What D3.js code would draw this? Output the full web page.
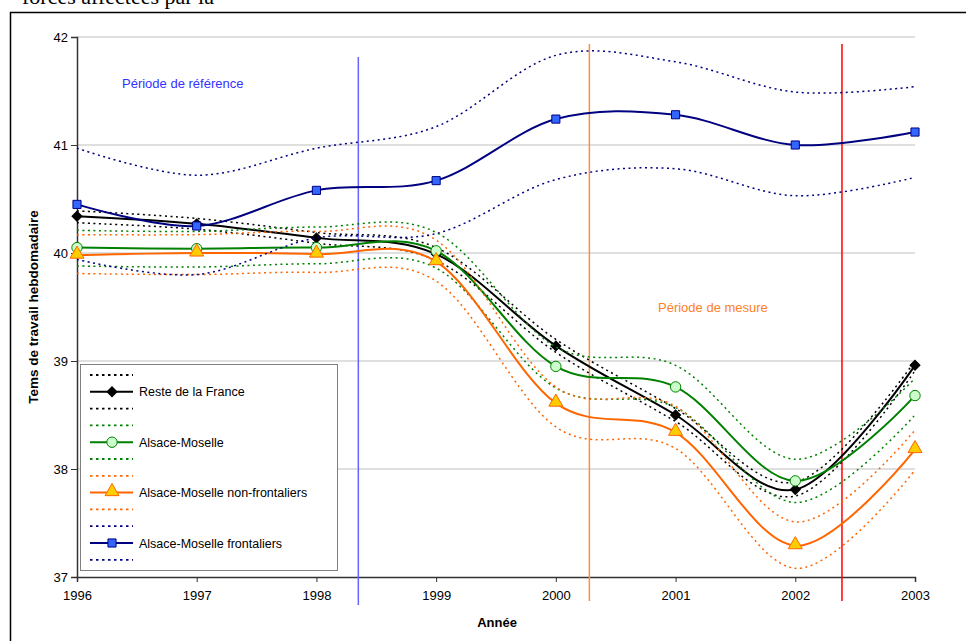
<!DOCTYPE html>
<html>
<head>
<meta charset="utf-8">
<script src="https://cdn.jsdelivr.net/npm/d3@7"></script>
<style>
  body { margin: 0; background: #fff; }
  svg { display: block; font-family: "Liberation Sans", Arial, sans-serif; }
</style>
</head>
<body>
<div id="chart"></div>
<script>
// années et valeurs
var years = [1996, 1997, 1998, 1999, 2000, 2001, 2002, 2003];
var yTicks = [37, 38, 39, 40, 41, 42];

var resteFrance    = [40.34, 40.27, 40.14, 39.99, 39.14, 38.50, 37.81, 38.96];
var resteFranceHt  = [40.39, 40.32, 40.19, 40.05, 39.20, 38.56, 37.88, 39.00];
var resteFranceBas = [40.28, 40.22, 40.09, 39.93, 39.08, 38.44, 37.75, 38.91];

var alsaceMoselle    = [40.05, 40.04, 40.05, 40.02, 38.95, 38.76, 37.89, 38.68];
var alsaceMoselleHt  = [40.21, 40.20, 40.24, 40.19, 39.13, 38.96, 38.09, 38.84];
var alsaceMoselleBas = [39.88, 39.87, 39.90, 39.86, 38.75, 38.57, 37.69, 38.50];

var nonFrontaliers    = [39.98, 40.00, 39.99, 39.92, 38.61, 38.34, 37.29, 38.18];
var nonFrontaliersHt  = [40.17, 40.17, 40.20, 40.12, 38.76, 38.58, 37.51, 38.36];
var nonFrontaliersBas = [39.81, 39.80, 39.82, 39.74, 38.39, 38.19, 37.08, 37.99];

var frontaliers    = [40.45, 40.25, 40.58, 40.67, 41.24, 41.28, 41.00, 41.12];
var frontaliersHt  = [40.97, 40.72, 40.97, 41.17, 41.83, 41.77, 41.49, 41.54];
var frontaliersBas = [39.94, 39.80, 40.14, 40.18, 40.68, 40.78, 40.53, 40.70];

var seriesNames = ["Reste de la France", "Alsace-Moselle", "Alsace-Moselle non-frontaliers", "Alsace-Moselle frontaliers"];

// bornes des périodes (en années)
var periodLines = [1998.35, 2000.28, 2002.39];
var periodLabels = ["Période de référence", "Période de mesure"];

var width = 966, height = 641;
var svg = d3.select("#chart").append("svg")
    .attr("width", width)
    .attr("height", height);

svg.append("rect").attr("width", width).attr("height", height).attr("fill", "#fff");

// bout de titre coupé au-dessus du cadre
svg.append("text")
    .attr("x", 22).attr("y", 4)
    .attr("font-family", "Liberation Serif, Times New Roman, serif")
    .attr("font-size", "22px")
    .text("forces affectées par la");

// cadre extérieur
svg.append("rect")
    .attr("x", 10.5).attr("y", 12.5)
    .attr("width", 1000).attr("height", 700)
    .attr("fill", "none").attr("stroke", "#000").attr("stroke-width", 1.5);

var x = d3.scaleLinear().domain([1996, 2003]).range([77, 915]);
var y = d3.scaleLinear().domain([37, 42]).range([577, 37]);

// quadrillage
svg.append("g").selectAll("line")
    .data(yTicks.slice(1))
    .enter().append("line")
    .attr("x1", x(1996)).attr("x2", x(2003))
    .attr("y1", function (d) { return y(d); })
    .attr("y2", function (d) { return y(d); })
    .attr("stroke", "#d4d4d4").attr("stroke-width", 1.5);

// axes
var yAxis = svg.append("g")
    .attr("transform", "translate(" + x(1996) + ",0)")
    .call(d3.axisLeft(y).tickValues(yTicks).tickFormat(d3.format("d")).tickSize(6).tickPadding(3));
var xAxis = svg.append("g")
    .attr("transform", "translate(0," + y(37) + ")")
    .call(d3.axisBottom(x).tickValues(years).tickFormat(d3.format("d")).tickSize(5).tickPadding(9));
[xAxis, yAxis].forEach(function (a) {
    a.select(".domain").attr("stroke", "#333").attr("stroke-width", 1.5);
    a.selectAll(".tick line").attr("stroke", "#333");
    a.selectAll("text").attr("font-size", "13px").attr("fill", "#000")
        .attr("font-family", "Liberation Sans, Arial, sans-serif");
});

// lignes verticales des périodes
var periodColors = ["#6666ff", "#ff8c40", "#ff0000"];
var periodTops = [57, 44, 44];
var periodBottoms = [605, 601, 601];
periodLines.forEach(function (p, i) {
    svg.append("line")
        .attr("x1", x(p)).attr("x2", x(p))
        .attr("y1", periodTops[i]).attr("y2", periodBottoms[i])
        .attr("stroke", periodColors[i]).attr("stroke-width", 1.5);
});

svg.append("text")
    .attr("x", 122).attr("y", 88)
    .attr("font-size", "13px").attr("fill", "#3333ff")
    .text(periodLabels[0]);
svg.append("text")
    .attr("x", 658).attr("y", 312)
    .attr("font-size", "13px").attr("fill", "#ff7f27")
    .text(periodLabels[1]);

// séries
var table = [
    { name: null, values: resteFranceHt, color: "#000", dotted: true },
    { name: seriesNames[0], values: resteFrance, color: "#000", marker: "diamond", fill: "#000" },
    { name: null, values: resteFranceBas, color: "#000", dotted: true },
    { name: null, values: alsaceMoselleHt, color: "#008000", dotted: true },
    { name: seriesNames[1], values: alsaceMoselle, color: "#008000", marker: "circle", fill: "#ccffcc" },
    { name: null, values: alsaceMoselleBas, color: "#008000", dotted: true },
    { name: null, values: nonFrontaliersHt, color: "#ff6600", dotted: true },
    { name: seriesNames[2], values: nonFrontaliers, color: "#ff6600", marker: "triangle", fill: "#ffcc00" },
    { name: null, values: nonFrontaliersBas, color: "#ff6600", dotted: true },
    { name: null, values: frontaliersHt, color: "#000080", dotted: true },
    { name: seriesNames[3], values: frontaliers, color: "#000080", marker: "square", fill: "#3366ff" },
    { name: null, values: frontaliersBas, color: "#000080", dotted: true }
];

var line = d3.line()
    .x(function (d) { return x(d.year); })
    .y(function (d) { return y(d.v); })
    .curve(d3.curveCardinal.tension(0));

// le losange est un carré tourné de 45°
var symbolTypes = {
    diamond: { type: d3.symbolSquare, size: 50, rot: 45 },
    circle: { type: d3.symbolCircle, size: 85, rot: 0 },
    triangle: { type: d3.symbolTriangle, size: 85, rot: 0 },
    square: { type: d3.symbolSquare, size: 66, rot: 0 }
};

function drawMarker(g, s, cx, cy) {
    var sym = symbolTypes[s.marker];
    g.append("path")
        .attr("d", d3.symbol().type(sym.type).size(sym.size)())
        .attr("transform", "translate(" + cx + "," + (s.marker == "triangle" ? cy - 1 : cy) + ") rotate(" + sym.rot + ")")
        .attr("fill", s.fill)
        .attr("stroke", s.color)
        .attr("stroke-width", 1);
}

table.forEach(function (s) {
    var pts = years.map(function (yr, i) { return { year: yr, v: s.values[i] }; });
    var g = svg.append("g");
    g.append("path")
        .datum(pts)
        .attr("d", line)
        .attr("fill", "none")
        .attr("stroke", s.color)
        .attr("stroke-width", s.dotted ? 1.5 : 2)
        .attr("stroke-dasharray", s.dotted ? "2,3.5" : null);
    if (s.marker) {
        pts.forEach(function (p) { drawMarker(g, s, x(p.year), y(p.v)); });
    }
});

// légende
var legend = svg.append("g");
legend.append("rect")
    .attr("x", 80.5).attr("y", 364.5)
    .attr("width", 257).attr("height", 206)
    .attr("fill", "#fff").attr("stroke", "#808080").attr("stroke-width", 1);

table.forEach(function (s, i) {
    var ry = 375 + i * 16.8;
    legend.append("line")
        .attr("x1", 90).attr("x2", 133)
        .attr("y1", ry).attr("y2", ry)
        .attr("stroke", s.color)
        .attr("stroke-width", s.dotted ? 1.8 : 2)
        .attr("stroke-dasharray", s.dotted ? "2.5,3.5" : null);
    if (s.marker) {
        drawMarker(legend, s, 112, ry);
        legend.append("text")
            .attr("x", 139).attr("y", ry + 4.5)
            .attr("font-size", "12.5px")
            .text(s.name);
    }
});

// titres des axes
svg.append("text")
    .attr("transform", "translate(38," + y(39.5) + ") rotate(-90)")
    .attr("text-anchor", "middle")
    .attr("font-size", "13.5px").attr("font-weight", "bold")
    .text("Tems de travail hebdomadaire");
svg.append("text")
    .attr("x", 497).attr("y", 627)
    .attr("text-anchor", "middle")
    .attr("font-size", "13px").attr("font-weight", "bold")
    .text("Année");
</script>
</body>
</html>
